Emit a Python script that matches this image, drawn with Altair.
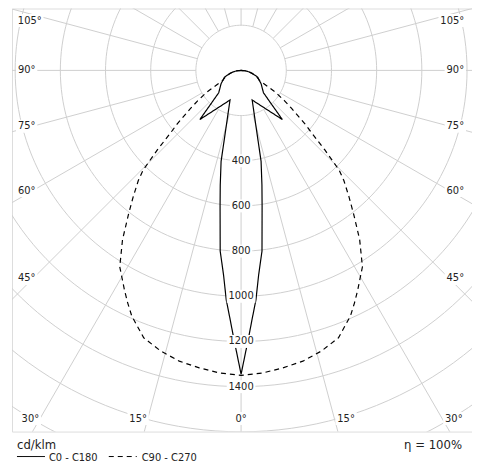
import math
import altair as alt
import pandas as pd

# ---- data (gamma angle in degrees, intensity in cd/klm) ----
c0_angles = [0, 1.6, 2.5, 3.7, 4.9, 6.6, 8.8, 10.3, 12.4, 14.8, 20.5, 40, 45, 56.5, 61.3, 68, 74, 78.6, 84, 90]
c0_values = [1345, 1184, 1105, 1018, 909, 805, 608, 516, 412, 260, 140, 284, 140, 106, 92, 79, 53, 38, 20, 0]

c90_angles = [0, 4, 8, 12, 16, 20, 24, 26, 28, 31.7, 35, 38, 40.5, 43, 44.5, 46.5, 48.6, 50, 53, 55, 57.6,
              61.3, 65, 70, 75, 80, 85, 90]
c90_values = [1350, 1343, 1330, 1316, 1292, 1260, 1190, 1145, 1100, 1022, 915, 810, 735, 667, 619, 510, 412,
              370, 280, 235, 180, 93, 82, 67, 50, 34, 17, 0]

series_names = ["C0 - C180", "C90 - C270"]
ring_values = [200, 400, 600, 800, 1000, 1200, 1400, 1600, 1800, 2000]
ring_labels = [400, 600, 800, 1000, 1200, 1400]
side_angle_labels = [105, 90, 75, 60, 45, 30, 15, 0]
eta_text = "η = 100%"
unit_text = "cd/klm"

FONT = "Tahoma, 'DejaVu Sans Condensed', 'Liberation Sans', sans-serif"
GRID = "#cfcfcf"
DASHES = [[1, 0], [5, 4]]

# ---- plot geometry ----
W, H = 461, 424
XD = [-1014, 1022]
YD = [-1599, 274]
K = (XD[1] - XD[0]) / W  # cd per pixel


def polar(i, a):
    r = math.radians(a)
    return i * math.sin(r), -i * math.cos(r)


# curves (C0 to the right, C180 mirrored to the left)
rows = []
for name, angs, vals in [(series_names[0], c0_angles, c0_values), (series_names[1], c90_angles, c90_values)]:
    seq = [(-a, v) for a, v in zip(angs[::-1], vals[::-1])] + [(a, v) for a, v in zip(angs[1:], vals[1:])]
    for n, (a, v) in enumerate(seq):
        x, y = polar(v, a)
        rows.append(dict(series=name, order=n, x=x, y=y))
curves = pd.DataFrame(rows)

# grid rings
rrows = []
for r in ring_values:
    for t in range(0, 361, 2):
        x, y = polar(r, t)
        rrows.append(dict(ring=r, t=t, x=x, y=y))
rings = pd.DataFrame(rrows)

# radial lines every 15 degrees
lrows = []
for a in range(0, 360, 15):
    for r in (200, 2400):
        x, y = polar(r, a)
        lrows.append(dict(ang=a, r=r, x=x, y=y))
radials = pd.DataFrame(lrows)


def text_w(s):
    return sum(5.0 if ch == "°" else 6.2 for ch in s)


# ring value labels on the 0 degree line
nrows = []
for v in ring_labels:
    s = str(v)
    w = text_w(s) + 4
    nrows.append(dict(label=s, x=0, y=-v, x1=-w / 2 * K, x2=w / 2 * K, y1=-v - 6.5 * K, y2=-v + 6.5 * K))
nlabels = pd.DataFrame(nrows)

# angle labels near the frame
arows = []
for a in side_angle_labels:
    for s in (-1, 1):
        if a == 0 and s == 1:
            continue
        txt = f"{a}°"
        w = text_w(txt)
        rad = math.radians(a)
        y_side = 208.6 * math.cos(rad) / math.sin(rad) if a > 0 else 1e9
        if y_side <= 349:
            ypx = max(y_side, -50)
            xc = -223.6 + w / 2 if s < 0 else 223.4 - w / 2
        else:
            ypx = 349
            xl = 349 * math.tan(rad)
            if a == 0:
                xc = 0
            elif s < 0:
                xc = -xl - 1 - w / 2
            else:
                xc = xl + 3 + w / 2
        xd, yd = xc * K, -ypx * K
        arows.append(dict(label=txt, x=xd, y=yd, x1=xd - (w / 2 + 2) * K, x2=xd + (w / 2 + 2) * K,
                          y1=yd - 6.5 * K, y2=yd + 6.5 * K))
alabels = pd.DataFrame(arows)

xs = alt.Scale(domain=XD, nice=False, zero=False)
ys = alt.Scale(domain=YD, nice=False, zero=False)
X = alt.X("x:Q", scale=xs, axis=None)
Y = alt.Y("y:Q", scale=ys, axis=None)
dash_scale = alt.Scale(domain=series_names, range=DASHES)

ring_layer = alt.Chart(rings).mark_line(clip=True, color=GRID, strokeWidth=1).encode(
    x=X, y=Y, detail="ring:N", order="t:Q")
radial_layer = alt.Chart(radials).mark_line(clip=True, color=GRID, strokeWidth=1).encode(
    x=X, y=Y, detail="ang:N", order="r:Q")

curve_layer = alt.Chart(curves).mark_line(clip=True, color="black", strokeWidth=1.2).encode(
    x=X, y=Y, order="order:Q",
    strokeDash=alt.StrokeDash("series:N", scale=dash_scale, legend=None),
)

nbox = alt.Chart(nlabels).mark_rect(color="white").encode(
    x=alt.X("x1:Q", scale=xs, axis=None), x2="x2:Q", y=alt.Y("y1:Q", scale=ys, axis=None), y2="y2:Q")
ntext = alt.Chart(nlabels).mark_text(font=FONT, fontSize=11, color="#222", baseline="middle").encode(
    x=X, y=Y, text="label:N")
abox = alt.Chart(alabels).mark_rect(color="white").encode(
    x=alt.X("x1:Q", scale=xs, axis=None), x2="x2:Q", y=alt.Y("y1:Q", scale=ys, axis=None), y2="y2:Q")
atext = alt.Chart(alabels).mark_text(font=FONT, fontSize=11, color="#222", baseline="middle").encode(
    x=X, y=Y, text="label:N")

# ---- manual legend below the frame ----
leg = pd.DataFrame({
    "series": series_names,
    "x1": [5, 97],
    "x2": [33, 125],
    "tx": [37, 130],
})
leg_lines = alt.Chart(leg).mark_rule(color="black", strokeWidth=1).encode(
    x=alt.X("x1:Q", scale=None), x2="x2:Q", y=alt.value(449),
    strokeDash=alt.StrokeDash("series:N", scale=dash_scale, legend=None))
leg_text = alt.Chart(leg).mark_text(font=FONT, fontSize=11, color="#222", align="left",
                                    baseline="middle").encode(
    x=alt.X("tx:Q", scale=None), y=alt.value(450), text="series:N")
unit = alt.Chart(pd.DataFrame({"t": [unit_text]})).mark_text(
    font=FONT, fontSize=13, color="#222", align="left", baseline="middle").encode(
    x=alt.value(5), y=alt.value(437), text="t:N")
eta = alt.Chart(pd.DataFrame({"t": [eta_text]})).mark_text(
    font=FONT, fontSize=13, color="#222", align="right", baseline="middle").encode(
    x=alt.value(451), y=alt.value(437), text="t:N")

chart = alt.layer(ring_layer, radial_layer, curve_layer, nbox, ntext, abox, atext,
                  leg_lines, leg_text, unit, eta).resolve_scale(x="independent").properties(
    width=W, height=H,
    autosize=alt.AutoSizeParams(type="none"),
    padding={"left": 4, "top": 0, "right": 0, "bottom": 40},
).configure_view(stroke="#555", strokeWidth=1).configure(background="white")

chart.save("out.html", embed_options={"renderer": "svg", "actions": False})
